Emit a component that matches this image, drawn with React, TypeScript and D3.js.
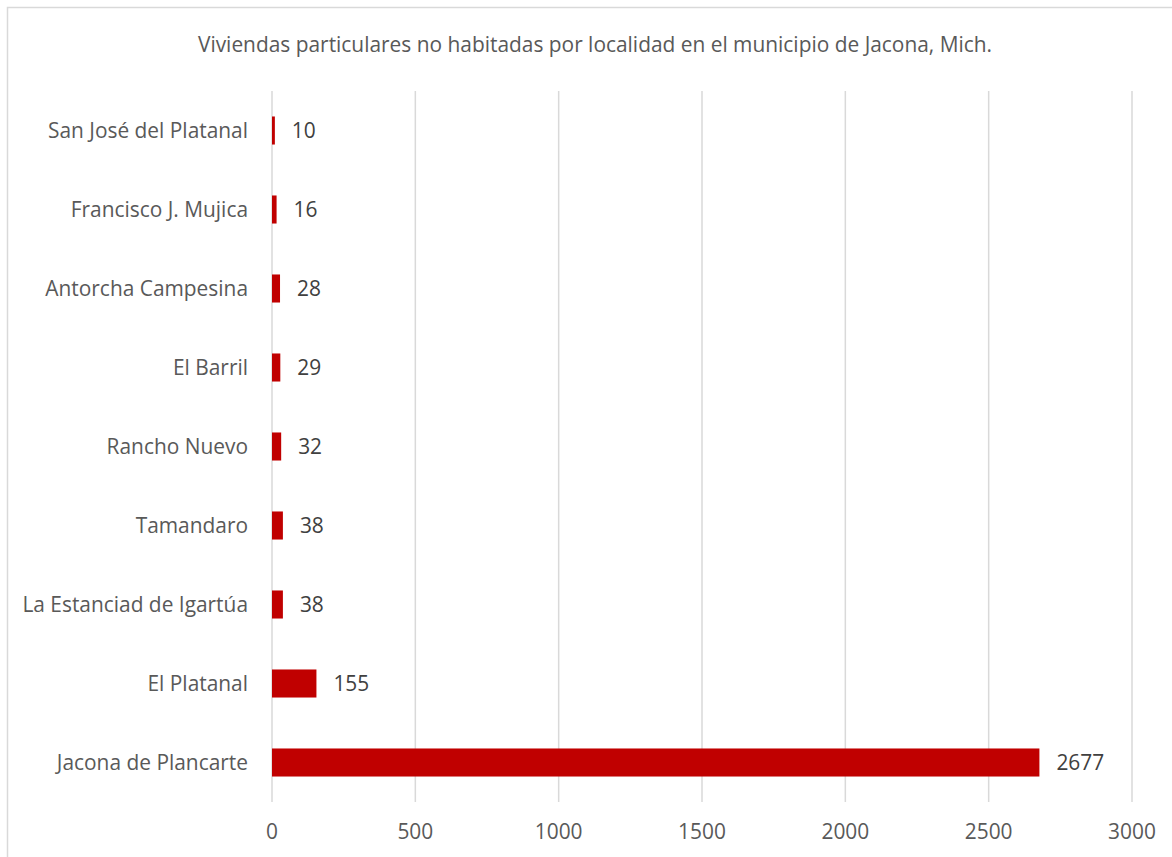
import React, { useEffect, useRef } from 'react';
import * as d3 from 'd3';

// Data (top to bottom)
const localidades = [
  'San José del Platanal',
  'Francisco J. Mujica',
  'Antorcha Campesina',
  'El Barril',
  'Rancho Nuevo',
  'Tamandaro',
  'La Estanciad de Igartúa',
  'El Platanal',
  'Jacona de Plancarte',
];
const viviendas = [10, 16, 28, 29, 32, 38, 38, 155, 2677];
const xTicks = [0, 500, 1000, 1500, 2000, 2500, 3000];
const titulo = 'Viviendas particulares no habitadas por localidad en el municipio de Jacona, Mich.';

const App: React.FC = () => {
  const svgRef = useRef<SVGSVGElement>(null);

  useEffect(() => {
    if (!svgRef.current) return;
    const svg = d3.select(svgRef.current);
    svg.selectAll('*').remove();

    const width = 1172;
    const height = 857;
    const font = '"Open Sans", sans-serif';
    const fontSize = '20.9px';

    // chart frame (right/bottom edges run off the picture)
    svg.append('rect')
      .attr('x', 7.5)
      .attr('y', 7.5)
      .attr('width', 1300)
      .attr('height', 1000)
      .style('fill', '#fff')
      .style('stroke', '#d9d9d9')
      .style('stroke-width', 1.5);

    const plot = { left: 272, right: 1132, top: 91, bottom: 802 };

    const x = d3.scaleLinear().domain([0, 3000]).range([plot.left, plot.right]);
    const y = d3.scaleBand<string>()
      .domain(localidades)
      .range([plot.top, plot.bottom])
      .paddingInner(0.645)
      .paddingOuter(0.3225);

    // title
    svg.append('text')
      .attr('x', 595)
      .attr('y', 45)
      .attr('dy', '0.35em')
      .attr('text-anchor', 'middle')
      .style('font-family', font)
      .style('font-size', fontSize)
      .style('fill', '#595959')
      .text(titulo);

    // vertical gridlines
    svg.append('g')
      .selectAll('line')
      .data(xTicks)
      .enter().append('line')
      .attr('x1', d => x(d))
      .attr('x2', d => x(d))
      .attr('y1', plot.top)
      .attr('y2', plot.bottom)
      .style('stroke', '#d9d9d9')
      .style('stroke-width', 1.5);

    // x tick labels
    svg.append('g')
      .selectAll('text')
      .data(xTicks)
      .enter().append('text')
      .attr('x', d => x(d))
      .attr('y', 832)
      .attr('dy', '0.35em')
      .attr('text-anchor', 'middle')
      .style('font-family', font)
      .style('font-size', fontSize)
      .style('fill', '#595959')
      .text(d => String(d));

    // category labels
    svg.append('g')
      .selectAll('text')
      .data(localidades)
      .enter().append('text')
      .attr('x', 248)
      .attr('y', d => (y(d) ?? 0) + y.bandwidth() / 2)
      .attr('dy', '0.35em')
      .attr('text-anchor', 'end')
      .style('font-family', font)
      .style('font-size', fontSize)
      .style('fill', '#595959')
      .text(d => d);

    const rows = localidades.map((name, i) => ({ name, value: viviendas[i] }));

    // bars
    svg.append('g')
      .selectAll('rect')
      .data(rows)
      .enter().append('rect')
      .attr('x', x(0))
      .attr('y', d => y(d.name) ?? 0)
      .attr('width', d => x(d.value) - x(0))
      .attr('height', y.bandwidth())
      .style('fill', '#c00000');

    // value labels
    svg.append('g')
      .selectAll('text')
      .data(rows)
      .enter().append('text')
      .attr('x', d => x(d.value) + 17)
      .attr('y', d => (y(d.name) ?? 0) + y.bandwidth() / 2)
      .attr('dy', '0.35em')
      .style('font-family', font)
      .style('font-size', fontSize)
      .style('fill', '#404040')
      .text(d => String(d.value));

    svg.attr('width', width).attr('height', height);
  }, []);

  return (
    <svg
      ref={svgRef}
      width={1172}
      height={857}
      style={{ position: 'absolute', left: 0, top: 0, display: 'block', background: '#fff' }}
    />
  );
};

export default App;
